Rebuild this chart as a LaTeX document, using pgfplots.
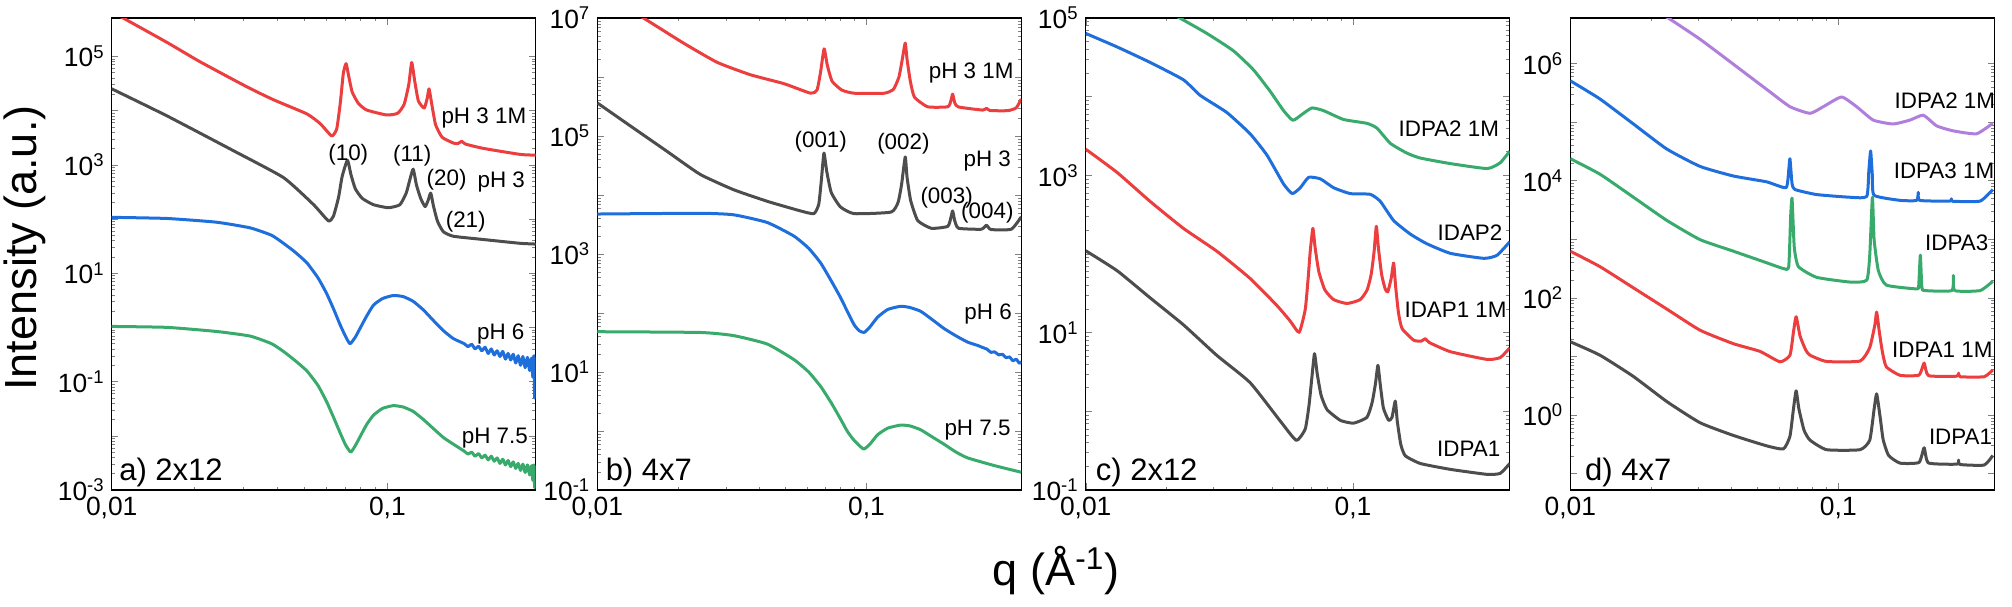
\documentclass[border=0pt]{standalone}
\usepackage{fontspec}
\setmainfont{Liberation Sans}
\usepackage{pgfplots}
\pgfplotsset{compat=1.18}

\definecolor{cred}{RGB}{236,62,62}
\definecolor{cgray}{RGB}{77,77,77}
\definecolor{cblue}{RGB}{30,111,220}
\definecolor{cgreen}{RGB}{56,170,108}
\definecolor{cpurple}{RGB}{176,127,220}

\tikzset{
  clab/.style={anchor=west, inner sep=0pt, font=\fontsize{11.2}{13}\selectfont},
  plab/.style={inner sep=0pt, font=\fontsize{11.2}{13}\selectfont},
  panel/.style={anchor=base west, inner sep=0pt, font=\fontsize{15.5}{18}\selectfont},
  crv/.style={line width=1.5pt, line join=round, smooth, tension=0.3},
}

\begin{document}
\begin{tikzpicture}
\useasboundingbox (0pt,0pt) rectangle (1006pt,-303pt);

% a) 2x12
\begin{axis}[at={(55.85pt,-245pt)}, anchor=south west, clip mode=individual,
  xmode=log, ymode=log, scale only axis, width=212pt, height=236pt,
  xmin=0.01, xtick={0.01,0.1}, xticklabels={{0,01},{0,1}},
  tick label style={font=\fontsize{13.2}{15}\selectfont},
  axis line style={line width=0.65pt},
  major tick length=3.3pt, minor tick length=1.7pt,
  xmax=0.345, ymin=1e-3, ymax=5.08e5,
  ytick={1e-3,1e-2,1e-1,1,10,100,1e3,1e4,1e5},
  yticklabels={10\textsuperscript{-3},,10\textsuperscript{-1},,10\textsuperscript{1},,10\textsuperscript{3},,10\textsuperscript{5}}]
\addplot[cred, crv, no marks] coordinates {(0.0100,6.6e5)(0.0110,5.08e5)(0.01585,1.81e5)(0.0209,7.94e4)(0.0309,2.74e4)(0.0386,1.58e4)(0.0510,8.67e3)(0.0570,5.75e3)(0.0628,3.40e3)(0.0655,4.6e3)(0.0675,1.4e4)(0.0692,4.85e4)(0.0708,7.33e4)(0.0722,4.6e4)(0.0745,2.2e4)(0.0785,1.35e4)(0.0841,1.02e4)(0.0994,8.26e3)(0.109,8.9e3)(0.115,1.3e4)(0.1195,3.0e4)(0.1225,7.69e4)(0.1255,3.6e4)(0.1295,1.5e4)(0.136,1.11e4)(0.1395,1.7e4)(0.1416,2.51e4)(0.1445,1.4e4)(0.1495,5.5e3)(0.158,3.2e3)(0.1735,2.51e3)(0.180,2.45e3)(0.186,2.7e3)(0.192,2.4e3)(0.223,2.0e3)(0.303,1.55e3)(0.345,1.50e3)};
\addplot[cgray, crv, no marks] coordinates {(0.01,2.51e4)(0.01585,7.98e3)(0.0276,1.82e3)(0.042,578)(0.054,183)(0.0611,92)(0.0637,112)(0.0665,250)(0.0685,600)(0.0716,1.21e3)(0.0738,650)(0.0765,360)(0.081,240)(0.089,183)(0.1008,161)(0.111,183)(0.117,300)(0.1205,520)(0.124,830)(0.1275,420)(0.132,240)(0.137,169)(0.1405,220)(0.1436,300)(0.147,170)(0.152,90)(0.1596,58)(0.1735,47.9)(0.223,41.7)(0.303,35.5)(0.345,34.4)};
\addplot[cblue, crv, no marks] coordinates {(0.01,107)(0.01585,102)(0.024,87)(0.0318,68.4)(0.038,50)(0.042,35.5)(0.046,25)(0.051,15.6)(0.056,8.2)(0.0602,4.21)(0.064,2.1)(0.0673,1.13)(0.0705,0.68)(0.0732,0.50)(0.0765,0.66)(0.0796,0.96)(0.084,1.6)(0.089,2.57)(0.096,3.4)(0.105,3.87)(0.114,3.7)(0.124,3.02)(0.135,2.1)(0.147,1.33)(0.16,0.86)(0.1735,0.62)(0.19,0.50)(0.196,0.44)(0.202,0.49)(0.208,0.40)(0.214,0.45)(0.22,0.37)(0.226,0.43)(0.232,0.33)(0.238,0.40)(0.244,0.31)(0.25,0.37)(0.256,0.29)(0.262,0.36)(0.268,0.26)(0.274,0.33)(0.28,0.25)(0.286,0.32)(0.292,0.22)(0.298,0.30)(0.304,0.20)(0.31,0.29)(0.316,0.18)(0.322,0.28)(0.328,0.16)(0.333,0.27)(0.337,0.12)(0.34,0.30)(0.342,0.05)(0.344,0.25)(0.345,0.10)};
\addplot[cgreen, crv, no marks] coordinates {(0.01,1.04)(0.01585,1.0)(0.024,0.84)(0.0318,0.69)(0.038,0.5)(0.042,0.359)(0.046,0.25)(0.051,0.158)(0.056,0.085)(0.0602,0.0425)(0.064,0.021)(0.0673,0.0115)(0.0705,0.0068)(0.0736,0.0050)(0.0765,0.0066)(0.0796,0.0096)(0.084,0.016)(0.089,0.024)(0.096,0.032)(0.105,0.036)(0.114,0.034)(0.124,0.0282)(0.135,0.02)(0.147,0.0135)(0.16,0.0092)(0.1735,0.0070)(0.19,0.0052)(0.196,0.0046)(0.202,0.0050)(0.208,0.0042)(0.214,0.0047)(0.22,0.0039)(0.226,0.0044)(0.232,0.0036)(0.238,0.0042)(0.244,0.0034)(0.25,0.0039)(0.256,0.0031)(0.262,0.0037)(0.268,0.0029)(0.274,0.0035)(0.28,0.0027)(0.286,0.0033)(0.292,0.0025)(0.298,0.0031)(0.304,0.0023)(0.31,0.0030)(0.316,0.0021)(0.322,0.0029)(0.328,0.0019)(0.333,0.0028)(0.337,0.0015)(0.34,0.0029)(0.342,0.0011)(0.344,0.0026)(0.345,0.0013)};
\node[clab] at (rel axis cs:0.777,0.789) {pH 3 1M};
\node[plab] at (rel axis cs:0.558,0.711) {(10)};
\node[plab] at (rel axis cs:0.709,0.708) {(11)};
\node[plab] at (rel axis cs:0.790,0.657) {(20)};
\node[clab] at (rel axis cs:0.862,0.653) {pH 3};
\node[plab] at (rel axis cs:0.835,0.568) {(21)};
\node[clab] at (rel axis cs:0.861,0.331) {pH 6};
\node[clab] at (rel axis cs:0.825,0.110) {pH 7.5};
\node[panel] at (rel axis cs:0.017,0.0212) {a) 2x12};
\end{axis}

% b) 4x7
\begin{axis}[at={(298.65pt,-245pt)}, anchor=south west, clip mode=individual,
  xmode=log, ymode=log, scale only axis, width=212pt, height=236pt,
  xmin=0.01, xtick={0.01,0.1}, xticklabels={{0,01},{0,1}},
  tick label style={font=\fontsize{13.2}{15}\selectfont},
  axis line style={line width=0.65pt},
  major tick length=3.3pt, minor tick length=1.7pt,
  xmax=0.376, ymin=1e-1, ymax=1e7,
  ytick={1e-1,1,10,100,1e3,1e4,1e5,1e6,1e7},
  yticklabels={10\textsuperscript{-1},,10\textsuperscript{1},,10\textsuperscript{3},,10\textsuperscript{5},,10\textsuperscript{7}}]
\addplot[cred, crv, no marks] coordinates {(0.013,1.4e7)(0.01484,1.0e7)(0.0209,3.76e6)(0.0279,1.77e6)(0.0371,1.09e6)(0.0493,7.73e5)(0.062,5.31e5)(0.0655,6.0e5)(0.0675,1.2e6)(0.0696,3.0e6)(0.0715,1.6e6)(0.0745,8.5e5)(0.081,6.0e5)(0.090,5.31e5)(0.1164,5.31e5)(0.126,6.2e5)(0.132,1.0e6)(0.136,2.06e6)(0.1393,3.76e6)(0.1415,2.0e6)(0.1455,8.5e5)(0.1507,4.57e5)(0.1687,3.13e5)(0.2004,3.13e5)(0.206,4.0e5)(0.209,5.13e5)(0.213,3.6e5)(0.22,3.1e5)(0.27,2.75e5)(0.279,2.95e5)(0.288,2.7e5)(0.335,2.69e5)(0.36,3.0e5)(0.376,4.24e5)};
\addplot[cgray, crv, no marks] coordinates {(0.01,3.64e5)(0.0136,1.37e5)(0.0181,5.55e4)(0.0241,2.24e4)(0.0321,1.23e4)(0.0428,7.82e3)(0.0569,5.37e3)(0.0638,4.83e3)(0.0665,7.0e3)(0.068,1.8e4)(0.0695,5.14e4)(0.0712,2.5e4)(0.074,1.1e4)(0.08,6.3e3)(0.090,4.83e3)(0.1233,5.13e3)(0.131,7.5e3)(0.135,1.5e4)(0.1393,4.42e4)(0.1415,2.0e4)(0.146,8.0e3)(0.155,3.69e3)(0.174,2.73e3)(0.2004,2.94e3)(0.206,4.2e3)(0.209,5.37e3)(0.213,3.6e3)(0.22,2.73e3)(0.267,2.63e3)(0.279,3.08e3)(0.29,2.6e3)(0.345,2.63e3)(0.376,4.27e3)};
\addplot[cblue, crv, no marks] coordinates {(0.01,4.76e3)(0.0241,4.9e3)(0.0321,4.62e3)(0.0428,3.42e3)(0.0537,2.02e3)(0.061,1.25e3)(0.0676,703)(0.074,350)(0.0802,181)(0.085,105)(0.090,63.1)(0.094,50)(0.098,46.8)(0.103,58)(0.110,85.1)(0.12,115)(0.134,130)(0.145,124)(0.159,107)(0.175,78)(0.1945,54.3)(0.215,41)(0.2376,32.1)(0.26,28)(0.27,26)(0.28,24.5)(0.29,21.5)(0.299,22.0)(0.31,19.5)(0.32,20)(0.33,17.5)(0.34,18)(0.35,15.5)(0.36,16.5)(0.37,14)(0.376,15.1)};
\addplot[cgreen, crv, no marks] coordinates {(0.01,48.2)(0.0241,46.8)(0.0321,41.4)(0.0428,29.8)(0.0537,16.3)(0.061,10)(0.0676,5.68)(0.074,3.0)(0.0802,1.58)(0.085,0.98)(0.090,0.692)(0.0975,0.495)(0.103,0.6)(0.110,0.865)(0.12,1.12)(0.134,1.26)(0.145,1.22)(0.159,1.05)(0.175,0.8)(0.1945,0.594)(0.215,0.44)(0.2376,0.35)(0.299,0.259)(0.376,0.20)};
\node[clab] at (rel axis cs:0.781,0.883) {pH 3 1M};
\node[plab] at (rel axis cs:0.527,0.737) {(001)};
\node[plab] at (rel axis cs:0.722,0.733) {(002)};
\node[clab] at (rel axis cs:0.863,0.696) {pH 3};
\node[plab] at (rel axis cs:0.824,0.619) {(003)};
\node[plab] at (rel axis cs:0.920,0.588) {(004)};
\node[clab] at (rel axis cs:0.865,0.372) {pH 6};
\node[clab] at (rel axis cs:0.818,0.126) {pH 7.5};
\node[panel] at (rel axis cs:0.019,0.0212) {b) 4x7};
\end{axis}

% c) 2x12
\begin{axis}[at={(542.85pt,-245pt)}, anchor=south west, clip mode=individual,
  xmode=log, ymode=log, scale only axis, width=212pt, height=236pt,
  xmin=0.01, xtick={0.01,0.1}, xticklabels={{0,01},{0,1}},
  tick label style={font=\fontsize{13.2}{15}\selectfont},
  axis line style={line width=0.65pt},
  major tick length=3.3pt, minor tick length=1.7pt,
  xmax=0.386, ymin=1e-1, ymax=1e5,
  ytick={1e-1,1,10,100,1e3,1e4,1e5},
  yticklabels={10\textsuperscript{-1},,10\textsuperscript{1},,10\textsuperscript{3},,10\textsuperscript{5}}]
\addplot[cgreen, crv, no marks] coordinates {(0.021,1.15e5)(0.0225,1.0e5)(0.0284,6.37e4)(0.0357,3.83e4)(0.0425,2.18e4)(0.049,1.17e4)(0.055,6.65e3)(0.0596,5.01e3)(0.0644,5.94e3)(0.0702,7.19e3)(0.0776,6.65e3)(0.0922,5.13e3)(0.1128,4.58e3)(0.123,3.98e3)(0.138,2.55e3)(0.159,1.92e3)(0.1786,1.66e3)(0.2315,1.41e3)(0.318,1.22e3)(0.356,1.45e3)(0.386,2.03e3)};
\addplot[cblue, crv, no marks] coordinates {(0.01,6.37e4)(0.0131,4.29e4)(0.0174,2.73e4)(0.0232,1.64e4)(0.0268,1.04e4)(0.0337,6.31e3)(0.0412,3.38e3)(0.0476,1.82e3)(0.055,776)(0.0593,586)(0.0635,695)(0.0683,944)(0.0755,902)(0.0847,695)(0.0978,586)(0.116,574)(0.1265,468)(0.142,266)(0.164,179)(0.189,135)(0.2315,102)(0.309,88.1)(0.346,96.4)(0.386,143)};
\addplot[cred, crv, no marks] coordinates {(0.01,2.15e3)(0.0131,1.09e3)(0.0174,468)(0.0232,212)(0.031,108)(0.0412,49)(0.0519,22.2)(0.0582,14.1)(0.0629,10.1)(0.0663,19.8)(0.068,50)(0.0692,108)(0.0708,212)(0.0722,120)(0.0745,60)(0.0785,35)(0.0847,26.3)(0.095,23.5)(0.1064,26.3)(0.113,35)(0.117,55)(0.120,108)(0.1223,225)(0.1245,120)(0.128,55)(0.132,36)(0.135,33)(0.139,49)(0.142,76.9)(0.1445,38)(0.148,18)(0.1526,11.3)(0.1686,8.04)(0.180,7.8)(0.1866,8.4)(0.193,7.5)(0.2315,5.73)(0.318,4.57)(0.356,4.83)(0.386,6.41)};
\addplot[cgray, crv, no marks] coordinates {(0.01,110)(0.0131,61.4)(0.0174,27.8)(0.0232,12.6)(0.031,5.12)(0.0412,2.32)(0.0535,0.75)(0.0614,0.427)(0.0663,0.598)(0.0685,1.2)(0.0702,2.7)(0.0718,5.41)(0.0735,3.0)(0.076,1.6)(0.080,1.05)(0.0898,0.767)(0.1005,0.708)(0.1128,0.839)(0.118,1.3)(0.1215,2.3)(0.124,3.85)(0.1265,2.2)(0.13,1.1)(0.136,0.767)(0.140,0.839)(0.144,1.35)(0.1465,0.75)(0.151,0.38)(0.157,0.272)(0.179,0.217)(0.2315,0.183)(0.318,0.158)(0.356,0.163)(0.386,0.217)};
\node[clab] at (rel axis cs:0.737,0.766) {IDPA2 1M};
\node[clab] at (rel axis cs:0.829,0.546) {IDAP2};
\node[clab] at (rel axis cs:0.751,0.382) {IDAP1 1M};
\node[clab] at (rel axis cs:0.828,0.088) {IDPA1};
\node[panel] at (rel axis cs:0.023,0.0212) {c) 2x12};
\end{axis}

% d) 4x7
\begin{axis}[at={(785.15pt,-245pt)}, anchor=south west, clip mode=individual,
  xmode=log, ymode=log, scale only axis, width=212pt, height=236pt,
  xmin=0.01, xtick={0.01,0.1}, xticklabels={{0,01},{0,1}},
  tick label style={font=\fontsize{13.2}{15}\selectfont},
  axis line style={line width=0.65pt},
  major tick length=3.3pt, minor tick length=1.7pt,
  xmax=0.382, ymin=0.0525, ymax=5.97e6,
  ytick={1e-1,1,10,100,1e3,1e4,1e5,1e6},
  yticklabels={,10\textsuperscript{0},,10\textsuperscript{2},,10\textsuperscript{4},,10\textsuperscript{6}}]
\addplot[cpurple, crv, no marks] coordinates {(0.022,6.8e6)(0.0232,5.97e6)(0.0305,2.59e6)(0.0406,9.7e5)(0.054,3.62e5)(0.066,1.83e5)(0.0784,1.41e5)(0.0879,1.83e5)(0.1028,2.68e5)(0.117,1.83e5)(0.135,1.08e5)(0.160,9.27e4)(0.185,1.08e5)(0.2074,1.31e5)(0.233,8.59e4)(0.269,7.06e4)(0.328,6.31e4)(0.377,9.55e4)};
\addplot[cblue, crv, no marks] coordinates {(0.01,5.06e5)(0.0129,2.48e5)(0.0172,9.27e4)(0.0229,3.47e4)(0.0305,1.75e4)(0.0406,1.2e4)(0.054,9.55e3)(0.0638,7.59e3)(0.0653,1.5e4)(0.066,2.37e4)(0.0672,8.9e3)(0.0689,7.06e3)(0.083,5.79e3)(0.1106,5.21e3)(0.1276,5.37e3)(0.130,1.5e4)(0.132,3.21e4)(0.134,1.2e4)(0.136,5.62e3)(0.170,4.61e3)(0.196,4.6e3)(0.1988,6.31e3)(0.2015,4.6e3)(0.261,4.48e3)(0.264,4.9e3)(0.267,4.45e3)(0.338,4.48e3)(0.377,7.06e3)};
\addplot[cgreen, crv, no marks] coordinates {(0.01,2.37e4)(0.0129,1.29e4)(0.0172,5.21e3)(0.0229,2.1e3)(0.0305,984)(0.0406,625)(0.054,397)(0.0624,316)(0.0653,340)(0.0664,2.44e3)(0.0672,4.98e3)(0.0685,728)(0.071,341)(0.083,224)(0.1106,186)(0.1276,200)(0.131,537)(0.134,5.21e3)(0.136,984)(0.141,293)(0.151,165)(0.196,142)(0.1995,160)(0.2023,537)(0.205,150)(0.2103,133)(0.265,133)(0.2686,241)(0.272,133)(0.338,133)(0.377,192)};
\addplot[cred, crv, no marks] coordinates {(0.01,625)(0.0129,341)(0.0172,148)(0.0229,64.4)(0.0305,28)(0.0406,16.5)(0.051,12.2)(0.0606,8.09)(0.066,10.5)(0.068,25.9)(0.0696,47.6)(0.072,22.3)(0.0755,13)(0.0784,10.5)(0.0904,8.2)(0.1205,8.34)(0.131,14.2)(0.137,35.2)(0.139,57.1)(0.1423,25.9)(0.146,12)(0.151,6.64)(0.170,4.76)(0.200,4.8)(0.209,7.73)(0.217,4.7)(0.277,4.6)(0.281,5.2)(0.285,4.5)(0.35,4.5)(0.377,5.89)};
\addplot[cgray, crv, no marks] coordinates {(0.01,17.8)(0.0129,10.5)(0.0172,4.55)(0.0229,1.7)(0.0305,0.738)(0.0406,0.448)(0.054,0.298)(0.0624,0.264)(0.066,0.434)(0.068,1.26)(0.0696,2.59)(0.0713,1.26)(0.0745,0.55)(0.0784,0.373)(0.0904,0.256)(0.1205,0.256)(0.131,0.373)(0.136,1.26)(0.139,2.3)(0.1432,0.927)(0.147,0.38)(0.154,0.204)(0.170,0.151)(0.200,0.155)(0.209,0.276)(0.217,0.152)(0.277,0.145)(0.281,0.17)(0.285,0.143)(0.35,0.14)(0.377,0.204)};
\node[clab] at (rel axis cs:0.764,0.825) {IDPA2 1M};
\node[clab] at (rel axis cs:0.762,0.676) {IDPA3 1M};
\node[clab] at (rel axis cs:0.836,0.523) {IDPA3};
\node[clab] at (rel axis cs:0.758,0.297) {IDPA1 1M};
\node[clab] at (rel axis cs:0.845,0.112) {IDPA1};
\node[panel] at (rel axis cs:0.034,0.0212) {d) 4x7};
\end{axis}

\node[rotate=90, anchor=base, font=\fontsize{22.5}{26}\selectfont] at (18pt,-124pt) {Intensity (a.u.)};
\node[anchor=base, font=\fontsize{22.5}{26}\selectfont] at (528pt,-292.5pt) {q (Å\textsuperscript{-1})};
\end{tikzpicture}
\end{document}
